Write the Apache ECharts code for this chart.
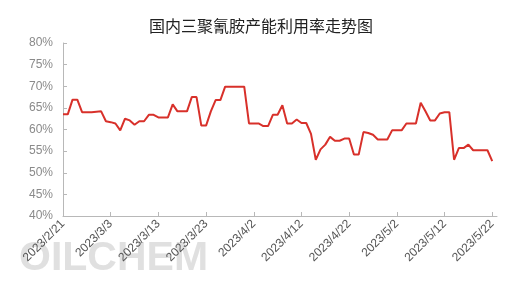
<!DOCTYPE html>
<html>
<head>
<meta charset="utf-8">
<script src="https://cdn.jsdelivr.net/npm/echarts@6/dist/echarts.min.js"></script>
<style>html,body{margin:0;padding:0;background:#fff}#c{width:522px;height:295px}</style>
</head>
<body>
<div id="c"></div>
<script>
var titleText = '国内三聚氰胺产能利用率走势图';
// daily categories 2023/2/21 .. 2023/5/23
var startDate = [2023, 2, 21];
var dayCount = 92;
var values = [
  63.5, 63.5, 66.9, 66.9, 64.0, 64.0, 64.0, 64.1, 64.2, 61.9,
  61.7, 61.4, 59.8, 62.5, 62.1, 61.1, 61.9, 61.9, 63.4, 63.4,
  62.8, 62.8, 62.8, 65.8, 64.2, 64.2, 64.2, 67.5, 67.5, 60.9,
  60.9, 64.2, 66.8, 66.8, 69.9, 69.9, 69.9, 69.9, 69.9, 61.4,
  61.4, 61.4, 60.8, 60.8, 63.4, 63.4, 65.6, 61.4, 61.4, 62.3,
  61.5, 61.5, 59.0, 53.0, 55.4, 56.5, 58.3, 57.4, 57.4, 57.9,
  57.9, 54.2, 54.2, 59.4, 59.2, 58.8, 57.7, 57.7, 57.7, 59.8,
  59.8, 59.8, 61.4, 61.4, 61.4, 66.2, 64.2, 62.1, 62.1, 63.7,
  64.0, 64.0, 53.0, 55.7, 55.7, 56.5, 55.2, 55.2, 55.2, 55.2,
  52.7, null
];
var yMin = 40, yMax = 80, yStep = 5;
var watermark = 'OILCHEM';

var categories = [];
for (var i = 0; i < dayCount; i++) {
  var d = new Date(startDate[0], startDate[1] - 1, startDate[2] + i);
  categories.push(d.getFullYear() + '/' + (d.getMonth() + 1) + '/' + d.getDate());
}

var chart = echarts.init(document.getElementById('c'), null, {renderer: 'canvas'});
chart.setOption({
  backgroundColor: '#fff',
  animation: false,
  title: {
    text: titleText,
    left: 'center',
    top: 13,
    textStyle: {fontSize: 16, fontWeight: 'normal', color: '#222', fontFamily: 'Noto Sans CJK SC'}
  },
  graphic: [{
    type: 'text',
    left: 19,
    top: 238,
    z: -10,
    zlevel: 0,
    silent: true,
    style: {
      text: watermark,
      font: 'bold 41px "Liberation Sans", Arial, sans-serif',
      fill: '#d6d6d6',
      opacity: 0.75
    }
  }],
  grid: {left: 63, right: 25, top: 43, bottom: 79, containLabel: false},
  xAxis: {
    type: 'category',
    data: categories,
    boundaryGap: false,
    z: 5,
    axisLine: {lineStyle: {color: '#b8b8b8', width: 1}},
    axisTick: {inside: true, length: 4, interval: 9, alignWithLabel: true, lineStyle: {color: '#b8b8b8'}},
    axisLabel: {interval: 9, rotate: 45, color: '#555', fontSize: 12, margin: 6, fontFamily: 'sans-serif'},
    splitLine: {show: false}
  },
  yAxis: {
    type: 'value',
    min: yMin, max: yMax, interval: yStep,
    axisLine: {show: true, lineStyle: {color: '#b8b8b8', width: 1}},
    axisTick: {show: true, inside: true, length: 4, lineStyle: {color: '#b8b8b8'}},
    axisLabel: {formatter: '{value}%', color: '#8a8a8a', fontSize: 12, margin: 10},
    splitLine: {show: false}
  },
  series: [{
    type: 'line',
    data: values,
    showSymbol: false,
    symbol: 'none',
    lineStyle: {color: '#d8302a', width: 2},
    itemStyle: {color: '#d8302a'}
  }]
});
</script>
</body>
</html>
